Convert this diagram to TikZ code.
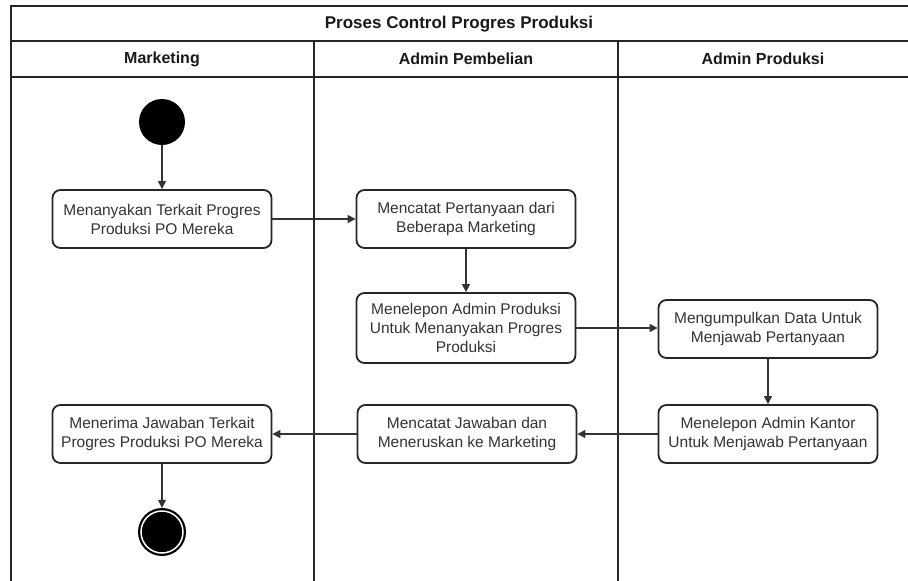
\documentclass[tikz,border=0pt]{standalone}
\usepackage{fontspec}
\setmainfont{Liberation Sans}
\usetikzlibrary{arrows.meta}
\begin{document}
\begin{tikzpicture}[x=1pt,y=-1pt,
  frame/.style={line width=2pt,draw=black!85},
  act/.style={draw=black!85,line width=1.8pt,rounded corners=8pt,fill=white,
    align=center,minimum width=219pt,inner sep=0pt,
    font=\fontsize{15.5}{19}\selectfont,text=black!80},
  flow/.style={line width=1.2pt,draw=black!80,-{Triangle[length=8pt,width=8pt]}},
  head/.style={font=\bfseries\fontsize{16}{19}\selectfont,text=black!90}]
\useasboundingbox (0,0) rectangle (908,581);
\fill[white] (0,0) rectangle (908,581);

% pool frame and lanes
\draw[frame] (908,6) -- (11,6) -- (11,581);
\draw[frame] (11,41) -- (908,41);
\draw[frame] (11,77) -- (908,77);
\draw[frame] (314,41) -- (314,581);
\draw[frame] (618,41) -- (618,581);

\node[head,font=\bfseries\fontsize{17}{19}\selectfont] (title) at (459,24) {Proses Control Progres Produksi};
\node[head] (lane1) at (162,59) {Marketing};
\node[head] (lane2) at (466,59) {Admin Pembelian};
\node[head] (lane3) at (763,59) {Admin Produksi};

% start and end
\node[circle,fill=black,minimum size=46pt,inner sep=0pt] (start) at (162,122) {};
\node[circle,fill=black,minimum size=48pt,inner sep=0pt] (end) at (162,532) {};
\draw[white,line width=1.5pt] (end.center) circle (21pt);

% activities
\node[act,minimum height=58pt] (a1) at (162,219) {Menanyakan Terkait Progres\\Produksi PO Mereka};
\node[act,minimum height=58pt] (a2) at (466,219) {Mencatat Pertanyaan dari\\Beberapa Marketing};
\node[act,minimum height=70pt] (a3) at (466,328) {Menelepon Admin Produksi\\Untuk Menanyakan Progres\\Produksi};
\node[act,minimum height=58pt] (a4) at (768,329) {Mengumpulkan Data Untuk\\Menjawab Pertanyaan};
\node[act,minimum height=58pt] (a5) at (768,434) {Menelepon Admin Kantor\\Untuk Menjawab Pertanyaan};
\node[act,minimum height=58pt] (a6) at (467,434) {Mencatat Jawaban dan\\Meneruskan ke Marketing};
\node[act,minimum height=58pt] (a7) at (162,434) {Menerima Jawaban Terkait\\Progres Produksi PO Mereka};

% control flow
\draw[flow] (start) -- (a1);
\draw[flow] (a1) -- (a2);
\draw[flow] (a2) -- (a3);
\draw[flow] (a3.east) -- (a3.east -| a4.west);
\draw[flow] (a4) -- (a5);
\draw[flow] (a5) -- (a6);
\draw[flow] (a6) -- (a7);
\draw[flow] (a7) -- (end);
\end{tikzpicture}
\end{document}
